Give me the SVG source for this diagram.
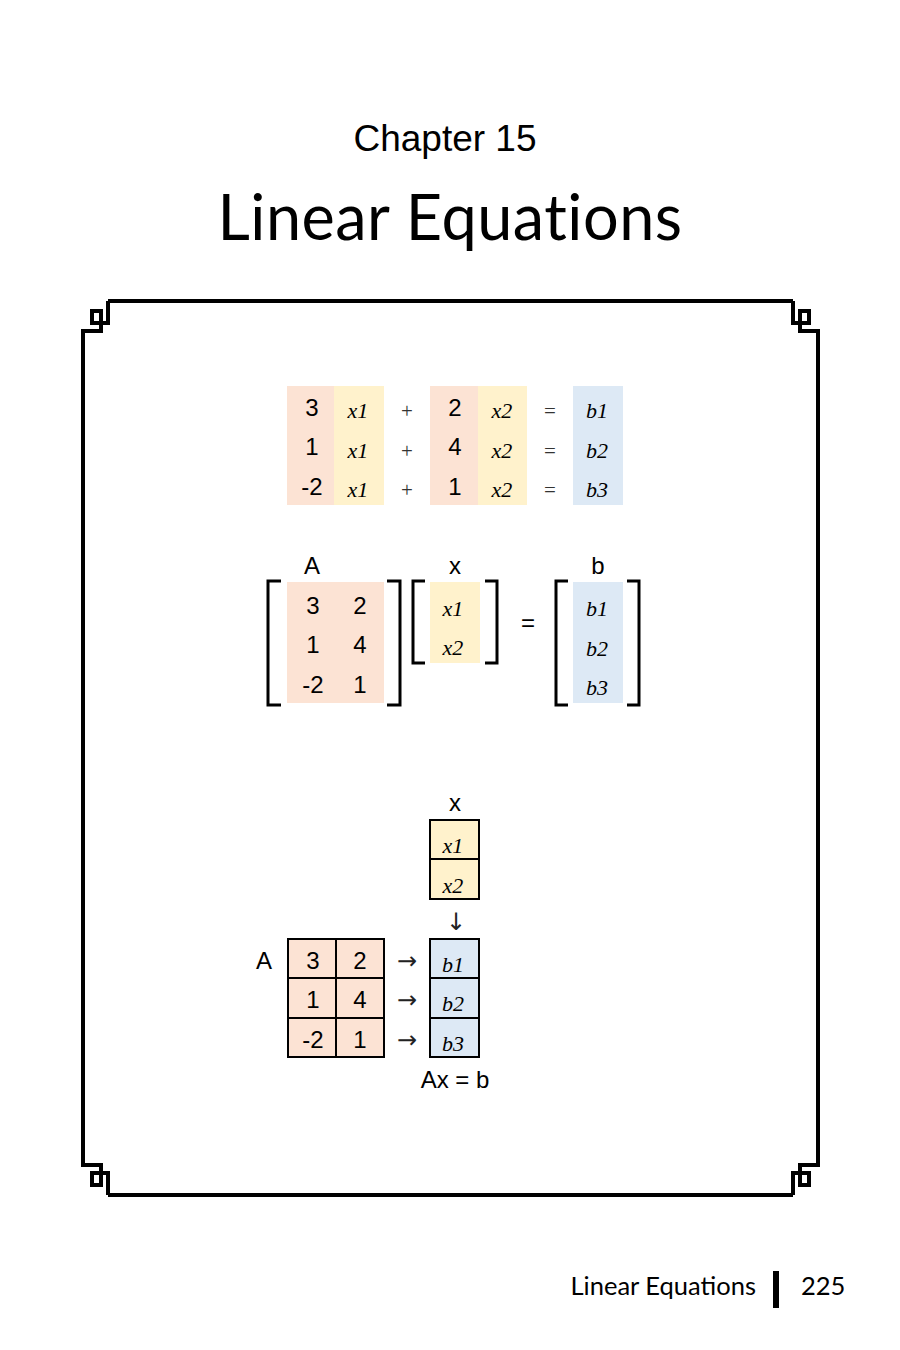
<svg xmlns="http://www.w3.org/2000/svg" width="900" height="1350" viewBox="0 0 900 1350">
<style>
.n{font-family:"Liberation Sans",Arial,sans-serif;font-size:24px;text-anchor:middle;fill:#000}
.v{font-family:"Liberation Serif","Times New Roman",serif;font-style:italic;font-size:22px;text-anchor:middle;fill:#000}
.o{font-family:"Liberation Serif",serif;font-size:21px;text-anchor:middle;fill:#333}
.ar{font-family:"DejaVu Sans",sans-serif;font-size:24px;text-anchor:middle;fill:#222}
.br{fill:none;stroke:#000;stroke-width:3}
.cell{stroke:#000;stroke-width:2}
.fr{fill:none;stroke:#000;stroke-width:4}
</style>
<rect width="900" height="1350" fill="#fff"/>
<text x="445" y="151" font-family="Liberation Sans,Arial,sans-serif" font-size="37" text-anchor="middle">Chapter 15</text>
<text x="450" y="240" font-family="Lato,sans-serif" font-size="63" text-anchor="middle" letter-spacing="0.5">Linear Equations</text>

<g id="frame">
<path class="fr" d="M108,301 H793 M108,1195 H793 M83,333 V1163 M818,333 V1163"/>
<g id="c1"><path class="fr" d="M83,333 V331 H101 V311 H92 V323 H108 V301"/></g>
<use href="#c1" transform="translate(901,0) scale(-1,1)"/>
<use href="#c1" transform="translate(0,1496) scale(1,-1)"/>
<use href="#c1" transform="translate(901,1496) scale(-1,-1)"/>
</g>

<g id="eq1">
<rect x="287" y="386" width="47" height="119" fill="#fce3d4"/>
<rect x="334" y="386" width="50" height="119" fill="#fff2cc"/>
<rect x="430" y="386" width="48" height="119" fill="#fce3d4"/>
<rect x="478" y="386" width="49" height="119" fill="#fff2cc"/>
<rect x="573" y="386" width="50" height="119" fill="#dde9f5"/>
<text class="n" x="312" y="416">3</text><text class="n" x="312" y="455">1</text><text class="n" x="312" y="495">-2</text>
<text class="v" x="358" y="418">x1</text><text class="v" x="358" y="458">x1</text><text class="v" x="358" y="497">x1</text>
<text class="o" x="407" y="418">+</text><text class="o" x="407" y="458">+</text><text class="o" x="407" y="497">+</text>
<text class="n" x="455" y="416">2</text><text class="n" x="455" y="455">4</text><text class="n" x="455" y="495">1</text>
<text class="v" x="502" y="418">x2</text><text class="v" x="502" y="458">x2</text><text class="v" x="502" y="497">x2</text>
<text class="o" x="550" y="418">=</text><text class="o" x="550" y="458">=</text><text class="o" x="550" y="497">=</text>
<text class="v" x="597" y="418">b1</text><text class="v" x="597" y="458">b2</text><text class="v" x="597" y="497">b3</text>
</g>

<g id="eq2">
<rect x="287" y="582" width="97" height="121" fill="#fce3d4"/>
<rect x="430" y="582" width="50" height="81" fill="#fff2cc"/>
<rect x="573" y="582" width="50" height="121" fill="#dde9f5"/>
<text class="n" x="312" y="574">A</text>
<text class="n" x="455" y="574">x</text>
<text class="n" x="598" y="574">b</text>
<text class="n" x="313" y="614">3</text><text class="n" x="360" y="614">2</text>
<text class="n" x="313" y="653">1</text><text class="n" x="360" y="653">4</text>
<text class="n" x="313" y="693">-2</text><text class="n" x="360" y="693">1</text>
<text class="v" x="453" y="616">x1</text><text class="v" x="453" y="655">x2</text>
<text class="v" x="597" y="616">b1</text><text class="v" x="597" y="656">b2</text><text class="v" x="597" y="695">b3</text>
<text class="n" x="528" y="631">=</text>
<path class="br" d="M281,581 H268 V705 H281 M387,581 H400 V705 H387 M425,581 H413 V663 H425 M485,581 H497 V663 H485 M568,581 H556 V705 H568 M627,581 H639 V705 H627"/>
</g>

<g id="eq3">
<text class="n" x="455" y="811">x</text>
<rect class="cell" x="430" y="820" width="49" height="79" fill="#fff2cc"/>
<line class="cell" x1="430" y1="859" x2="479" y2="859"/>
<text class="v" x="453" y="853">x1</text><text class="v" x="453" y="893">x2</text>
<text class="ar" x="456" y="930">↓</text>
<rect class="cell" x="430" y="939" width="49" height="118" fill="#dde9f5"/>
<line class="cell" x1="430" y1="978" x2="479" y2="978"/>
<line class="cell" x1="430" y1="1018" x2="479" y2="1018"/>
<text class="v" x="453" y="972">b1</text><text class="v" x="453" y="1011">b2</text><text class="v" x="453" y="1051">b3</text>
<text class="n" x="264" y="969">A</text>
<rect class="cell" x="288" y="939" width="96" height="118" fill="#fce3d4"/>
<path class="cell" d="M336,939 V1057 M288,978 H384 M288,1018 H384"/>
<text class="n" x="313" y="969">3</text><text class="n" x="360" y="969">2</text>
<text class="n" x="313" y="1008">1</text><text class="n" x="360" y="1008">4</text>
<text class="n" x="313" y="1048">-2</text><text class="n" x="360" y="1048">1</text>
<text class="ar" x="407" y="969">→</text><text class="ar" x="407" y="1008">→</text><text class="ar" x="407" y="1048">→</text>
<text class="n" x="455" y="1088">Ax = b</text>
</g>

<g id="footer">
<text x="756" y="1295" font-family="Lato,sans-serif" font-size="25.5" text-anchor="end">Linear Equations</text>
<rect x="773" y="1271" width="6" height="37" fill="#000"/>
<text x="801" y="1295" font-family="Lato,sans-serif" font-size="25.5">225</text>
</g>
</svg>
